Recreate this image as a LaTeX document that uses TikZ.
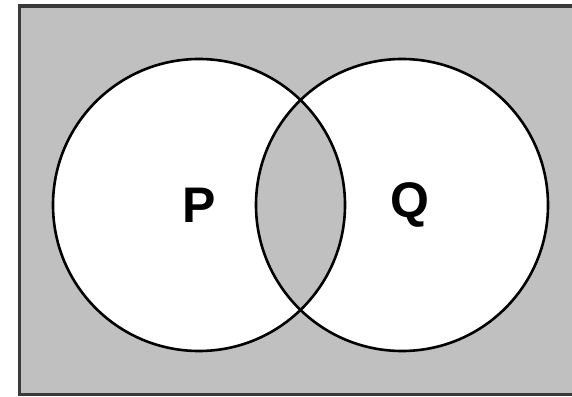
\documentclass[tikz,border=0pt]{standalone}
\usepackage{fontspec}
\setmainfont{Liberation Sans}
\definecolor{venngray}{HTML}{C0C0C0}
\definecolor{frame}{HTML}{3A3A3A}
\begin{document}
\begin{tikzpicture}[x=1pt,y=-1pt]
\useasboundingbox (0,0) rectangle (572,396);

% universe
\fill[venngray] (19.5,6) rectangle (600,394.5);
\draw[frame,line width=3.5pt] (600,6) -- (19.5,6) -- (19.5,394.5) -- (600,394.5);

% sets
\fill[white] (199,205) circle (146);
\fill[white] (402,205) circle (146);
\begin{scope}
\clip (199,205) circle (146);
\fill[venngray] (402,205) circle (146);
\end{scope}
\draw[line width=2.6pt] (199,205) circle (146);
\draw[line width=2.6pt] (402,205) circle (146);

\node[font=\bfseries\fontsize{50}{50}\selectfont] (p) at (199,205) {P};
\node[font=\bfseries\fontsize{50}{50}\selectfont] (q) at (410,205) {Q};
\end{tikzpicture}
\end{document}
